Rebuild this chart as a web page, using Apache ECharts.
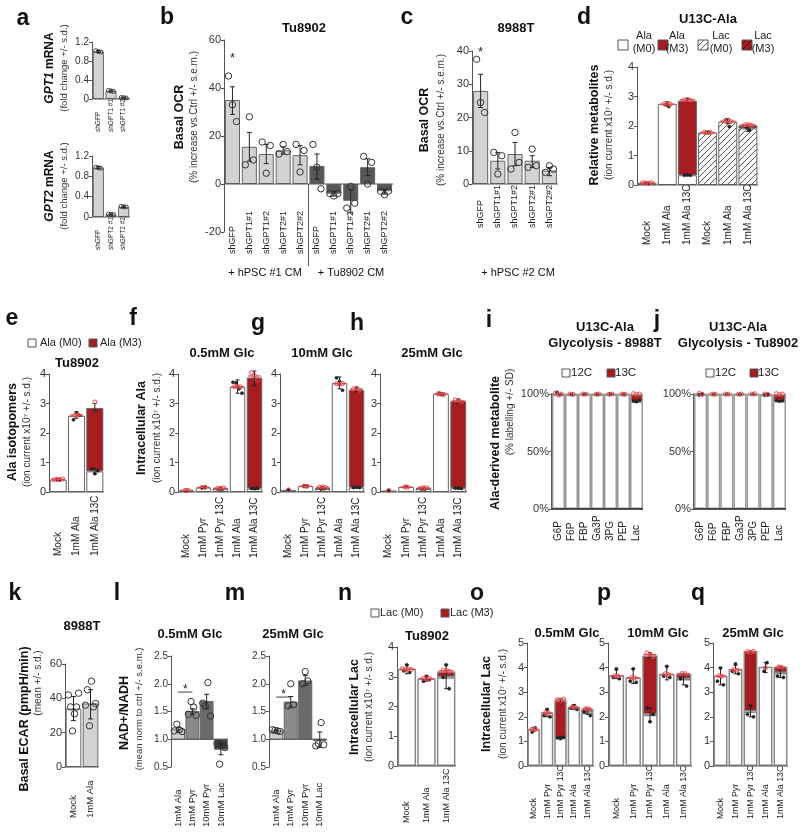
<!DOCTYPE html>
<html>
<head>
<meta charset="utf-8">
<script src="https://cdn.jsdelivr.net/npm/echarts@6.0.0/dist/echarts.min.js"></script>
<style>
html, body { margin:0; padding:0; background:#fff; }
#chart { width:800px; height:834px; }
</style>
</head>
<body>
<div id="chart"></div>
<script>
/* ================= DATA ================= */
// a
const aCats1 = ['shGFP', 'shGPT1 #1', 'shGPT1 #2'];
const aGpt1 = [1.0, 0.17, 0.03];
const aGpt1Err = [[0.98, 1.02], [0.15, 0.19], [0.02, 0.04]];
const aGpt1Dots = [[1.02, 1.0, 0.99], [0.18, 0.17, 0.16], [0.03, 0.03, 0.02]];
const aCats2 = ['shGFP', 'shGPT2 #1', 'shGPT2 #2'];
const aGpt2 = [0.97, 0.05, 0.20];
const aGpt2Err = [[0.95, 0.99], [0.04, 0.06], [0.19, 0.22]];
const aGpt2Dots = [[0.98, 0.97, 0.96], [0.06, 0.05, 0.05], [0.21, 0.20, 0.20]];
// b
const bCats = ['shGFP', 'shGPT1#1', 'shGPT1#2', 'shGPT2#1', 'shGPT2#2'];
const bHpsc = [35, 15.5, 12.5, 14, 12];
const bHpscErr = [[29, 40.5], [9.5, 21.5], [8.5, 16.5], [12.5, 15.5], [8, 16]];
const bHpscDots = [[45, 33, 26], [8, 28, 10], [17.5, 4.5, 16], [12.5, 16.5, 13.5], [16.5, 5, 14]];
const bTu = [7.5, -4, -7, 7, -3];
const bTuErr = [[2, 12.5], [-5, -3], [-12, -2.5], [3.5, 10.5], [-4.2, -2.3]];
const bTuDots = [[16.5, 7, -2], [-4, -5, -4], [-10, -1, -8], [11.5, 0, 9], [-3, -4.5, -3]];
const bStar = 52.5;
// c
const cCats = ['shGFP', 'shGPT1#1', 'shGPT1#2', 'shGPT2#1', 'shGPT2#2'];
const cVals = [28, 7, 9, 7, 4];
const cErr = [[23, 33], [4.5, 9.5], [5.5, 12.5], [5, 8.5], [2.5, 5]];
const cDots = [[37.5, 24.5, 21.5], [9.5, 3, 8.5], [4.5, 15.5, 6.5], [5, 10.5, 5.5], [3.5, 5.5, 4.5]];
const cStar = 39.5;
// d
const dCats = ['Mock', '1mM Ala', '1mM Ala 13C', 'Mock', '1mM Ala', '1mM Ala 13C'];
const dAlaM0 = [0.07, 2.75, 0.33];
const dAlaM3 = [0, 0, 2.53];
const dLacM0 = [1.78, 2.15, 1.92];
const dLacM3 = [0, 0, 0.10];
const dErr = [[0.06, 0.08], [2.68, 2.82], [2.83, 2.93], [1.76, 1.80], [2.08, 2.25], [1.98, 2.06]];
const dErrM0 = [null, null, [0.32, 0.34], null, null, [1.82, 1.98]];
const dRed = [[0.08, 0.07, 0.06, 0.08], [2.75, 2.73, 2.74], [2.89, 2.9, 2.88], [1.79, 1.78, 1.77], [2.16, 2.18, 2.15], [2.04, 2.05, 2.03]];
const dBlack = [[0.06, 0.05], [2.72, 2.66], [0.33, 0.34, 0.33], [1.78, 1.79], [2.21, 1.98], [1.96, 1.86]];
// e
const eCats = ['Mock', '1mM Ala', '1mM Ala 13C'];
const eM0 = [0.42, 2.58, 0.70];
const eM3 = [0, 0, 2.15];
const eErr = [[0.41, 0.43], [2.5, 2.72], [2.75, 3.0]];
const eErrM0 = [null, null, [0.62, 0.8]];
const eRed = [[0.42, 0.43, 0.42, 0.44], [2.6, 2.62], [3.05]];
const eBlack = [[0.42, 0.41], [2.45, 2.68, 2.6], [0.78, 0.62, 0.72]];
// f, g, h (Intracellular Ala)
const ghCats = ['Mock', '1mM Pyr', '1mM Pyr 13C', '1mM Ala', '1mM Ala 13C'];
const fM0 = [0.05, 0.15, 0.10, 3.57, 0.12];
const fM3 = [0, 0, 0.02, 0, 3.76];
const fErr = [[0.04, 0.06], [0.14, 0.17], [0.1, 0.15], [3.35, 3.8], [3.6, 4.1]];
const fRed = [[0.05, 0.06], [0.15, 0.16], [0.12, 0.13, 0.14], [3.57, 3.58, 3.56], [4.05, 3.95, 3.8]];
const fBlack = [[0.04], [0.14, 0.16], [0.1, 0.09], [3.72, 3.7, 3.5, 3.35], [0.12, 0.11, 0.12]];
const gM0 = [0.07, 0.20, 0.10, 3.70, 0.15];
const gM3 = [0, 0, 0.05, 0, 3.31];
const gErr = [[0.06, 0.08], [0.18, 0.22], [0.12, 0.18], [3.5, 3.9], [3.4, 3.55]];
const gRed = [[0.07], [0.2, 0.19], [0.16, 0.17, 0.15], [3.67, 3.66, 3.68], [3.5, 3.52, 3.45]];
const gBlack = [[0.07], [0.2, 0.21], [0.1, 0.11], [3.87, 3.75, 3.45], [0.15, 0.16, 0.15]];
const hM0 = [0.05, 0.17, 0.10, 3.33, 0.13];
const hM3 = [0, 0, 0.04, 0, 2.95];
const hErr = [[0.04, 0.06], [0.15, 0.19], [0.12, 0.16], [3.28, 3.36], [3.0, 3.15]];
const hRed = [[0.05], [0.17, 0.16], [0.13, 0.14, 0.15], [3.33, 3.32, 3.31], [3.12, 3.1, 3.05]];
const hBlack = [[0.05], [0.18], [0.1, 0.1], [3.35, 3.3], [0.13, 0.13, 0.12]];
// i, j (glycolysis labelling %)
const ijCats = ['G6P', 'F6P', 'FBP', 'Ga3P', '3PG', 'PEP', 'Lac'];
const i12C = [99.5, 99.6, 99.7, 99.6, 99.6, 99.7, 93.5];
const i13C = [0.5, 0.4, 0.3, 0.4, 0.4, 0.3, 6.5];
const iRed = [[100.8, 99, 100], [100, 99.8], [100, 99.9], [99.8, 100], [99.7, 100], [100, 99.8], [100.3, 99.7, 100]];
const iBlack = [[101.5, 99.5], [99.6], [99.7], [99.6], [100], [99.6], [94, 93.3, 94.5]];
const j12C = [99.6, 99.7, 99.7, 99.7, 99.7, 99.2, 94.0];
const j13C = [0.4, 0.3, 0.3, 0.3, 0.3, 0.8, 6.0];
const jRed = [[100.5, 99.5], [100, 99.8], [100, 99.9], [99.8, 100], [100, 100.2], [100, 99.7], [100.3, 99.7, 100]];
const jBlack = [[99.2, 100.3], [99.7], [99.7], [99.7], [99.9], [99.0, 99.4], [94.5, 93.8, 94.2]];
// k
const kCats = ['Mock', '1mM Ala'];
const kVals = [34, 37];
const kErr = [[27, 41], [28, 45]];
const kDots = [[42, 35, 21, 31, 35, 43], [36, 45, 24, 50, 35, 37]];
// l, m (NAD+/NADH)
const lmCats = ['1mM Ala', '1mM Pyr', '10mM Pyr', '10mM Lac'];
const lVals = [1.17, 1.50, 1.68, 0.82];
const lErr = [[1.13, 1.21], [1.45, 1.55], [1.55, 1.81], [0.72, 0.92]];
const lDots = [[1.15, 1.27, 1.17, 1.14], [1.45, 1.68, 1.58, 1.43], [1.65, 1.6, 2.02, 1.42], [0.92, 0.55, 0.9, 0.85]];
const lSig = 1.85;
const mVals = [1.15, 1.67, 2.05, 0.98];
const mErr = [[1.13, 1.17], [1.58, 1.77], [1.97, 2.15], [0.85, 1.13]];
const mDots = [[1.17, 1.16, 1.15, 1.14], [1.6, 2.0, 1.62], [2.0, 2.22, 2.05], [0.88, 0.92, 1.3, 0.9]];
const mSig = 1.76;
// n, o, p, q (Intracellular Lac)
const nCats = ['Mock', '1mM Ala', '1mM Ala 13C'];
const nM0 = [3.27, 2.94, 2.98];
const nM3 = [0, 0, 0.20];
const nErr = [[3.1, 3.4], [2.85, 3.05], [2.6, 3.4]];
const nRed = [[3.27, 3.25, 3.26, 3.24], [2.95, 2.93, 2.94], [3.22, 3.2, 3.18]];
const nBlack = [[3.2, 3.4, 3.15], [2.85, 3.0, 2.9], [2.98, 3.4, 2.6]];
const oqCats = ['Mock', '1mM Pyr', '1mM Pyr 13C', '1mM Ala', '1mM Ala 13C'];
const oM0 = [1.49, 2.17, 1.15, 2.40, 2.17];
const oM3 = [0, 0, 1.51, 0, 0.14];
const oErr = [[1.4, 1.55], [2.0, 2.3], [2.6, 2.75], [2.3, 2.5], [2.1, 2.35]];
const oErrM0 = [null, null, [1.1, 1.2], null, null];
const oRed = [[1.5, 1.48], [2.17, 2.15], [2.7, 2.65, 2.72], [2.4, 2.38], [2.33, 2.32]];
const oBlack = [[1.38, 1.55], [2.05, 2.3, 2.0], [1.15, 1.12, 1.17], [2.35, 2.45, 2.3], [2.2, 2.3, 2.05]];
const pM0 = [3.70, 3.60, 2.08, 3.74, 3.54];
const pM3 = [0, 0, 2.41, 0, 0.21];
const pErr = [[3.55, 3.9], [3.35, 3.95], [4.4, 4.6], [3.5, 4.05], [3.3, 3.75]];
const pErrM0 = [null, null, [1.8, 2.35], null, null];
const pRed = [[3.67, 3.66], [3.6, 3.58], [4.6, 4.55, 4.45], [3.75, 3.72], [3.76, 3.75]];
const pBlack = [[3.6, 3.95, 3.55], [3.45, 3.95, 3.4], [2.35, 1.8, 2.1], [3.65, 4.05, 3.6], [3.55, 3.7, 3.25]];
const qM0 = [3.67, 3.95, 2.22, 4.03, 3.78];
const qM3 = [0, 0, 2.45, 0, 0.25];
const qErr = [[3.3, 4.0], [3.75, 4.1], [4.6, 4.67], [3.8, 4.2], [3.6, 4.05]];
const qErrM0 = [null, null, [2.0, 2.45], null, null];
const qRed = [[3.67, 3.65], [3.92, 3.9], [4.65, 4.63, 4.66], [4.0], [4.03, 4.0]];
const qBlack = [[3.45, 3.98, 3.3], [3.85, 4.15, 3.75], [2.1, 2.45, 2.0], [3.85, 4.2], [3.65, 3.95, 3.6]];

/* ================= LAYOUT / STYLE ================= */
const FONT = '"Liberation Sans", Arial, Helvetica, sans-serif';
const RED = '#a51d21', DOTRED = '#e5494d', EDGE = '#666', LIGHT = '#d3d3d3', DARK = '#575757';
const L = {
  a1: {x0: 92, x1: 130, yTop: 42, yBot: 99, min: 0, max: 1.2, step: 0.4, lab: 132, ls: 6.5, ts: 10},
  a2: {x0: 92, x1: 130, yTop: 156, yBot: 217, min: 0, max: 1.2, step: 0.4, lab: 250, ls: 6.5, ts: 10},
  b: {x0: 224, x1: 393, yTop: 40, yBot: 232, min: -20, max: 60, step: 20, lab: 254, ls: 9, ts: 11, xLine: false},
  c: {x0: 472, x1: 558, yTop: 51, yBot: 184, min: 0, max: 40, step: 10, lab: 228, ls: 9, ts: 11},
  d: {x0: 637, x1: 758, yTop: 67, yBot: 185, min: 0, max: 4, step: 1, lab: 245, ls: 10, ts: 11},
  e: {x0: 49, x1: 104, yTop: 374, yBot: 492, min: 0, max: 4, step: 1, lab: 556, ls: 10, ts: 11},
  f: {x0: 178, x1: 263, yTop: 374, yBot: 492, min: 0, max: 4, step: 1, lab: 558, ls: 10, ts: 11},
  g: {x0: 280, x1: 365, yTop: 374, yBot: 492, min: 0, max: 4, step: 1, lab: 558, ls: 10, ts: 11},
  h: {x0: 380, x1: 467, yTop: 374, yBot: 492, min: 0, max: 4, step: 1, lab: 558, ls: 10, ts: 11},
  i: {x0: 552, x1: 643, yTop: 394, yBot: 509, min: 0, max: 100, step: 50, lab: 541, ls: 10, ts: 11, pct: true, axisDark: true},
  j: {x0: 694, x1: 786, yTop: 394, yBot: 509, min: 0, max: 100, step: 50, lab: 541, ls: 10, ts: 11, pct: true, axisDark: true},
  k: {x0: 65, x1: 99, yTop: 664, yBot: 767, min: 0, max: 60, step: 20, lab: 818, ls: 9.5, ts: 11},
  l: {x0: 171, x1: 228, yTop: 656, yBot: 767, min: 0.5, max: 2.5, step: 0.5, lab: 827, ls: 9.5, ts: 10, xLine: false, fix1: true},
  m: {x0: 269, x1: 327, yTop: 656, yBot: 767, min: 0.5, max: 2.5, step: 0.5, lab: 827, ls: 9.5, ts: 10, xLine: false, fix1: true},
  n: {x0: 397, x1: 456, yTop: 647, yBot: 766, min: 0, max: 4, step: 1, lab: 823, ls: 9, ts: 11},
  o: {x0: 527, x1: 594, yTop: 643, yBot: 766, min: 0, max: 5, step: 1, lab: 819, ls: 8.8, ts: 11},
  p: {x0: 608, x1: 692, yTop: 643, yBot: 766, min: 0, max: 5, step: 1, lab: 819, ls: 8.8, ts: 11},
  q: {x0: 713, x1: 788, yTop: 643, yBot: 766, min: 0, max: 5, step: 1, lab: 819, ls: 8.8, ts: 11}
};

const grids = [], xAxes = [], yAxes = [], series = [], graphics = [];
const nz = v => (v ? v : null);

function makeHatch(bg, fg) {
  const s = 6, cv = document.createElement('canvas');
  cv.width = s; cv.height = s;
  const g = cv.getContext('2d');
  g.fillStyle = bg; g.fillRect(0, 0, s, s);
  g.strokeStyle = fg; g.lineWidth = 0.9; g.beginPath();
  g.moveTo(-1, s + 1); g.lineTo(s + 1, -1);
  g.moveTo(-1, 1); g.lineTo(1, -1);
  g.moveTo(s - 1, s + 1); g.lineTo(s + 1, s - 1);
  g.stroke();
  return {image: cv, repeat: 'repeat'};
}
const HATCH_W = makeHatch('#ffffff', '#444');
const HATCH_R = makeHatch(RED, '#2a0505');

function hline(gi, value, color, width) {
  series.push({type: 'custom', xAxisIndex: gi, yAxisIndex: gi, data: [[0, value]], silent: true, animation: false, z: 3, clip: false,
    renderItem: (p, api) => {
      const y = api.coord([0, api.value(1)])[1], cs = p.coordSys;
      return {type: 'line', shape: {x1: cs.x, y1: y, x2: cs.x + cs.width, y2: y}, style: {stroke: color || '#555', lineWidth: width || 1}};
    }});
}

function panel(key, cats) {
  const c = L[key], gi = grids.length;
  grids.push({left: c.x0, top: c.yTop, width: c.x1 - c.x0, height: c.yBot - c.yTop,
    containLabel: false, outerBoundsMode: 'none'});
  xAxes.push({
    type: 'category', gridIndex: gi, data: cats.map((_, i) => 'k' + i),
    axisLine: {show: false, onZero: false}, axisTick: {show: false}, splitLine: {show: false},
    axisLabel: {show: true, interval: 0, rotate: 90, align: 'left', verticalAlign: 'middle',
      margin: c.lab - c.yBot, fontSize: c.ls, fontFamily: FONT, color: '#222', overflow: 'none',
      formatter: (v, idx) => cats[idx]}
  });
  yAxes.push({
    type: 'value', gridIndex: gi, min: c.min, max: c.max, interval: c.step,
    splitLine: {show: false},
    axisLine: {show: true, lineStyle: {color: c.axisDark ? '#222' : '#555', width: c.axisDark ? 1.5 : 1}},
    axisTick: {show: true, length: 3, lineStyle: {color: '#555'}},
    axisLabel: {fontSize: c.ts, fontFamily: FONT, color: '#333', margin: 3,
      formatter: v => c.pct ? v + '%' : (c.fix1 ? v.toFixed(1) : (c.step < 1 && v !== 0 ? v.toFixed(1) : String(v)))}
  });
  if (c.xLine !== false) hline(gi, c.min, c.axisDark ? '#222' : '#555', c.axisDark ? 1.5 : 1);
  return gi;
}

function bars(gi, data, o) {
  series.push({type: 'bar', xAxisIndex: gi, yAxisIndex: gi, data: data,
    stack: o.stack, barCategoryGap: o.gap || '10%', silent: true, animation: false, z: 2,
    itemStyle: {color: o.color || '#fff', borderColor: o.border || EDGE, borderWidth: o.bw == null ? 1 : o.bw}});
}
const aligned = arr => arr.map((e, i) => (e ? [i, e[0], e[1]] : null)).filter(Boolean);

function errs(gi, rows, cap) {
  const w = cap == null ? 2.5 : cap;
  series.push({type: 'custom', xAxisIndex: gi, yAxisIndex: gi, data: rows, silent: true, animation: false, z: 5, clip: false,
    renderItem: (p, api) => {
      const i = api.value(0);
      const a = api.coord([i, api.value(1)]), b = api.coord([i, api.value(2)]);
      const st = {stroke: '#222', lineWidth: 1};
      return {type: 'group', children: [
        {type: 'line', shape: {x1: a[0], y1: a[1], x2: b[0], y2: b[1]}, style: st},
        {type: 'line', shape: {x1: a[0] - w, y1: a[1], x2: a[0] + w, y2: a[1]}, style: st},
        {type: 'line', shape: {x1: b[0] - w, y1: b[1], x2: b[0] + w, y2: b[1]}, style: st}
      ]};
    }});
}

function dots(gi, groups, st, spread) {
  const rows = [];
  groups.forEach((g, i) => { if (g) g.forEach((v, k) => rows.push([i, v, k, g.length])); });
  const sp = spread == null ? 4 : spread;
  series.push({type: 'custom', xAxisIndex: gi, yAxisIndex: gi, data: rows, silent: true, animation: false, z: 6, clip: false,
    renderItem: (p, api) => {
      const c = api.coord([api.value(0), api.value(1)]);
      const k = api.value(2), n = api.value(3);
      const bw = api.size([1, 0])[0];
      const step = n > 1 ? Math.min(sp, bw * 0.6 / (n - 1)) : 0;
      return {type: 'circle', shape: {cx: c[0] + (k - (n - 1) / 2) * step, cy: c[1], r: st.r},
        style: {fill: st.fill, stroke: st.stroke, lineWidth: st.lw || 1}};
    }});
}

// short horizontal line at the mean of each dot group
function meanLines(gi, groups, color, frac) {
  const rows = [];
  groups.forEach((g, i) => { if (g && g.length > 1) rows.push([i, g.reduce((s, v) => s + v, 0) / g.length]); });
  series.push({type: 'custom', xAxisIndex: gi, yAxisIndex: gi, data: rows, silent: true, animation: false, z: 6, clip: false,
    renderItem: (p, api) => {
      const c = api.coord([api.value(0), api.value(1)]);
      const w = api.size([1, 0])[0] * frac / 2;
      return {type: 'line', shape: {x1: c[0] - w, y1: c[1], x2: c[0] + w, y2: c[1]}, style: {stroke: color, lineWidth: 1.3}};
    }});
}

function divider(gi, idx, value, drop) {
  series.push({type: 'custom', xAxisIndex: gi, yAxisIndex: gi, data: [[idx, value]], silent: true, animation: false, z: 3, clip: false,
    renderItem: (p, api) => {
      const i = api.value(0);
      const a = api.coord([i, api.value(1)]), b = api.coord([i + 1, api.value(1)]);
      const x = (a[0] + b[0]) / 2;
      return {type: 'line', shape: {x1: x, y1: a[1], x2: x, y2: a[1] + drop}, style: {stroke: '#555', lineWidth: 1}};
    }});
}

function star(gi, idx, value) {
  series.push({type: 'custom', xAxisIndex: gi, yAxisIndex: gi, data: [[idx, value]], silent: true, animation: false, z: 7, clip: false,
    renderItem: (p, api) => {
      const c = api.coord([api.value(0), api.value(1)]);
      return {type: 'text', x: c[0], y: c[1], style: {text: '*', font: '13px ' + FONT, fill: '#222', align: 'center', verticalAlign: 'middle'}};
    }});
}

function sig(gi, i0, i1, value) {
  series.push({type: 'custom', xAxisIndex: gi, yAxisIndex: gi, data: [[i0, value, i1]], silent: true, animation: false, z: 7, clip: false,
    renderItem: (p, api) => {
      const a = api.coord([api.value(0), api.value(1)]), b = api.coord([api.value(2), api.value(1)]);
      return {type: 'group', children: [
        {type: 'line', shape: {x1: a[0], y1: a[1], x2: b[0], y2: b[1]}, style: {stroke: '#444', lineWidth: 1}},
        {type: 'text', x: (a[0] + b[0]) / 2, y: a[1] - 2, style: {text: '*', font: '12px ' + FONT, fill: '#222', align: 'center', verticalAlign: 'middle'}}
      ]};
    }});
}

function baseBars(gi, vals, base, colors, frac) {
  series.push({type: 'custom', xAxisIndex: gi, yAxisIndex: gi, data: vals.map((v, i) => [i, v]), silent: true, animation: false, z: 2, clip: false,
    renderItem: (p, api) => {
      const i = api.value(0);
      const a = api.coord([i, base]), b = api.coord([i, api.value(1)]);
      const w = api.size([1, 0])[0] * frac;
      return {type: 'rect', shape: {x: a[0] - w / 2, y: Math.min(a[1], b[1]), width: w, height: Math.abs(a[1] - b[1])},
        style: {fill: colors[i], stroke: EDGE, lineWidth: 1}};
    }});
}

const OPEN = {r: 3.2, fill: 'none', stroke: '#333', lw: 1};
const OPEN_S = {r: 2, fill: 'none', stroke: '#333', lw: 0.9};
const RDOT = {r: 2, fill: 'none', stroke: DOTRED, lw: 1};
const BDOT = {r: 1.6, fill: '#222', stroke: '#222', lw: 0.5};

function iso(gi, m0, m3, top, mid, red, black, o) {
  const st = 's' + gi;
  bars(gi, m0, {color: '#fff', stack: st, gap: o.gap, bw: o.bw, border: o.border});
  bars(gi, m3.map(nz), {color: RED, stack: st, gap: o.gap, bw: o.bw, border: o.border});
  errs(gi, aligned(top), 2);
  if (mid) errs(gi, aligned(mid), 2);
  dots(gi, black, BDOT, 3);
  meanLines(gi, red, DOTRED, 0.75);
  dots(gi, red, RDOT, 3);
}

/* ---------- panels ---------- */
let gi;
// a
gi = panel('a1', aCats1);
bars(gi, aGpt1, {color: LIGHT, gap: '12%'}); errs(gi, aligned(aGpt1Err), 2); dots(gi, aGpt1Dots, OPEN_S, 2.5);
gi = panel('a2', aCats2);
bars(gi, aGpt2, {color: LIGHT, gap: '12%'}); errs(gi, aligned(aGpt2Err), 2); dots(gi, aGpt2Dots, OPEN_S, 2.5);
// b
gi = panel('b', bCats.concat(bCats));
bars(gi, bHpsc.concat(bTu).map((v, i) => ({value: v, itemStyle: {color: i < 5 ? LIGHT : DARK}})), {gap: '11%'});
hline(gi, 0, '#555');
divider(gi, 4, 0, 82);
errs(gi, aligned(bHpscErr.concat(bTuErr)), 2.5);
dots(gi, bHpscDots.concat(bTuDots), OPEN, 4);
star(gi, 0, bStar);
// c
gi = panel('c', cCats);
bars(gi, cVals, {color: LIGHT, gap: '12%'}); errs(gi, aligned(cErr), 2.5); dots(gi, cDots, OPEN, 4); star(gi, 0, cStar);
// d
gi = panel('d', dCats);
bars(gi, dAlaM0.concat([null, null, null]), {color: '#fff', stack: 'sd', gap: '6%'});
bars(gi, dAlaM3.map(nz).concat([null, null, null]), {color: RED, stack: 'sd', gap: '6%'});
bars(gi, [null, null, null].concat(dLacM0), {color: HATCH_W, stack: 'sd', gap: '6%'});
bars(gi, [null, null, null].concat(dLacM3.map(nz)), {color: HATCH_R, stack: 'sd', gap: '6%'});
errs(gi, aligned(dErr), 2); errs(gi, aligned(dErrM0), 2);
dots(gi, dBlack, BDOT, 3); meanLines(gi, dRed, DOTRED, 0.75); dots(gi, dRed, RDOT, 3);
// e
gi = panel('e', eCats);
iso(gi, eM0, eM3, eErr, eErrM0, eRed, eBlack, {gap: '7%'});
// f g h
gi = panel('f', ghCats); iso(gi, fM0, fM3, fErr, null, fRed, fBlack, {gap: '9%'});
gi = panel('g', ghCats); iso(gi, gM0, gM3, gErr, null, gRed, gBlack, {gap: '9%'});
gi = panel('h', ghCats); iso(gi, hM0, hM3, hErr, null, hRed, hBlack, {gap: '9%'});
// i j
gi = panel('i', ijCats);
bars(gi, i12C, {color: '#fff', stack: 'si', gap: '0%', bw: 1.5, border: '#999'});
bars(gi, i13C, {color: RED, stack: 'si', gap: '0%', bw: 1.5, border: '#999'});
dots(gi, iBlack, BDOT, 3); dots(gi, iRed, RDOT, 3);
gi = panel('j', ijCats);
bars(gi, j12C, {color: '#fff', stack: 'sj', gap: '0%', bw: 1.5, border: '#999'});
bars(gi, j13C, {color: RED, stack: 'sj', gap: '0%', bw: 1.5, border: '#999'});
dots(gi, jBlack, BDOT, 3); dots(gi, jRed, RDOT, 3);
// k
gi = panel('k', kCats);
bars(gi, kVals.map((v, i) => ({value: v, itemStyle: {color: i === 0 ? '#fff' : LIGHT}})), {gap: '8%'});
errs(gi, aligned(kErr), 2.5); dots(gi, kDots, OPEN, 2.6);
// l m
const lmColors = ['#d0d0d0', '#8a8a8a', '#6a6a6a', '#3e3e3e'];
gi = panel('l', lmCats);
baseBars(gi, lVals, 1.0, lmColors, 0.9); hline(gi, 1.0, '#555');
errs(gi, aligned(lErr), 2.5); dots(gi, lDots, OPEN, 2.6); sig(gi, 0, 1, lSig);
gi = panel('m', lmCats);
baseBars(gi, mVals, 1.0, lmColors, 0.9); hline(gi, 1.0, '#555');
errs(gi, aligned(mErr), 2.5); dots(gi, mDots, OPEN, 2.6); sig(gi, 0, 1, mSig);
// n o p q
gi = panel('n', nCats); iso(gi, nM0, nM3, nErr, null, nRed, nBlack, {gap: '6%', bw: 1.5, border: '#888'});
gi = panel('o', oqCats); iso(gi, oM0, oM3, oErr, oErrM0, oRed, oBlack, {gap: '7%', bw: 1.5, border: '#888'});
gi = panel('p', oqCats); iso(gi, pM0, pM3, pErr, pErrM0, pRed, pBlack, {gap: '8%', bw: 1.5, border: '#888'});
gi = panel('q', oqCats); iso(gi, qM0, qM3, qErr, qErrM0, qRed, qBlack, {gap: '7%', bw: 1.5, border: '#888'});

/* ---------- texts ---------- */
function txt(x, y, text, font, o) {
  o = o || {};
  graphics.push({type: 'text', x: x, y: y, rotation: o.rot || 0, silent: true, z: 20,
    style: Object.assign({text: text, font: font, fill: o.fill || '#111', align: o.align || 'center', verticalAlign: o.va || 'middle',
      lineHeight: o.lh}, o.extra || {})});
}
const F = (s, b) => (b ? 'bold ' : '') + s + 'px ' + FONT;
const R90 = Math.PI / 2;
// panel letters
[['a', 23, 19], ['b', 167, 18], ['c', 407, 18], ['d', 584, 18], ['e', 12, 319], ['f', 133, 319], ['g', 258, 324],
 ['h', 357, 324], ['i', 489, 321], ['j', 657, 321], ['k', 15, 594], ['l', 117, 594], ['m', 235, 594], ['n', 345, 594],
 ['o', 477, 594], ['p', 604, 594], ['q', 698, 594]].forEach(t => txt(t[1], t[2], t[0], F(23, true), {fill: '#111'}));
// titles
[['Tu8902', 304, 28], ['8988T', 516, 28], ['U13C-Ala', 708, 19], ['Tu8902', 77, 363], ['0.5mM Glc', 222, 353],
 ['10mM Glc', 322, 353], ['25mM Glc', 432, 353], ['8988T', 82, 626], ['0.5mM Glc', 190, 634], ['25mM Glc', 293, 634],
 ['Tu8902', 427, 636], ['0.5mM Glc', 567, 633], ['10mM Glc', 658, 633], ['25mM Glc', 753, 633]
].forEach(t => txt(t[1], t[2], t[0], F(13, true)));
txt(605, 335, 'U13C-Ala\nGlycolysis - 8988T', F(13, true), {lh: 16});
txt(738, 335, 'U13C-Ala\nGlycolysis - Tu8902', F(13, true), {lh: 16});
// y-axis labels
const ital = {rich: {i: {fontStyle: 'italic', fontWeight: 'bold', fontSize: 12, fontFamily: FONT}}};
txt(50, 68, '{i|GPT1} mRNA', F(12, true), {rot: R90, extra: ital});
txt(64, 68, '(fold change +/- s.d.)', F(9.5), {rot: R90, fill: '#333'});
txt(50, 186, '{i|GPT2} mRNA', F(12, true), {rot: R90, extra: ital});
txt(64, 186, '(fold change +/- s.d.)', F(9.5), {rot: R90, fill: '#333'});
[[180, 194, 117, 'Basal OCR', '(% increase vs.Ctrl +/- s.e.m.)'],
 [425, 441, 120, 'Basal OCR', '(% increase vs.Ctrl +/- s.e.m.)'],
 [595, 609, 125, 'Relative metabolites', '(ion current x10\u2077 +/- s.d.)'],
 [13, 27, 432, 'Ala isotopomers', '(ion current x10\u2077 +/- s.d.)'],
 [142, 157, 428, 'Intracellular Ala', '(ion current x10\u2077 +/- s.d.)'],
 [355, 369, 707, 'Intracellular Lac', '(ion current x10\u2077 +/- s.d.)'],
 [487, 503, 704, 'Intracellular Lac', '(ion current x10\u2077 +/- s.d.)']
].forEach(t => { txt(t[0], t[2], t[3], F(12.5, true), {rot: R90}); txt(t[1], t[2], t[4], F(10), {rot: R90, fill: '#333'}); });
txt(496, 443, 'Ala-derived metabolite', F(12.5, true), {rot: R90});
txt(510, 412, '(% labelling +/- SD)', F(10), {rot: R90, fill: '#333'});
txt(25, 719, 'Basal ECAR (pmpH/min)', F(12.5, true), {rot: R90});
txt(38, 683, '(mean +/- s.d.)', F(10), {rot: R90, fill: '#333'});
txt(125, 713, 'NAD+/NADH', F(12.5, true), {rot: R90});
txt(139, 709, '(mean norm to ctrl +/- s.e.m.)', F(9.5), {rot: R90, fill: '#333'});
// group labels
txt(265, 273, '+ hPSC #1 CM', F(11));
txt(351, 273, '+ Tu8902 CM', F(11));
txt(518, 273, '+ hPSC #2 CM', F(11));
// legends
function box(x, y, s, fill) {
  graphics.push({type: 'rect', silent: true, z: 20, shape: {x: x, y: y, width: s, height: s}, style: {fill: fill, stroke: '#555', lineWidth: 1}});
}
[[618, '#fff', 644, 'Ala\n(M0)'], [658, RED, 677, 'Ala\n(M3)'], [698, HATCH_W, 721, 'Lac\n(M0)'], [742, HATCH_R, 763, 'Lac\n(M3)']]
  .forEach(t => { box(t[0], 40, 10, t[1]); txt(t[2], 42, t[3], F(11), {lh: 13, fill: '#222'}); });
box(28, 339, 8, '#fff'); txt(40, 343, 'Ala (M0)', F(11), {align: 'left', fill: '#222'});
box(89, 339, 8, RED); txt(100, 343, 'Ala (M3)', F(11), {align: 'left', fill: '#222'});
box(562, 369, 8, '#fff'); txt(571, 373, '12C', F(11.5), {align: 'left', fill: '#222'});
box(607, 369, 8, RED); txt(615, 373, '13C', F(11.5), {align: 'left', fill: '#222'});
box(706, 369, 8, '#fff'); txt(715, 373, '12C', F(11.5), {align: 'left', fill: '#222'});
box(750, 369, 8, RED); txt(758, 373, '13C', F(11.5), {align: 'left', fill: '#222'});
box(371, 609, 8, '#fff'); txt(380, 613, 'Lac (M0)', F(11), {align: 'left', fill: '#222'});
box(441, 609, 8, RED); txt(450, 613, 'Lac (M3)', F(11), {align: 'left', fill: '#222'});

const chart = echarts.init(document.getElementById('chart'), null, {renderer: 'canvas'});
chart.setOption({
  animation: false,
  backgroundColor: '#fff',
  textStyle: {fontFamily: FONT},
  grid: grids, xAxis: xAxes, yAxis: yAxes, series: series,
  graphic: {elements: graphics}
});
</script>
</body>
</html>
